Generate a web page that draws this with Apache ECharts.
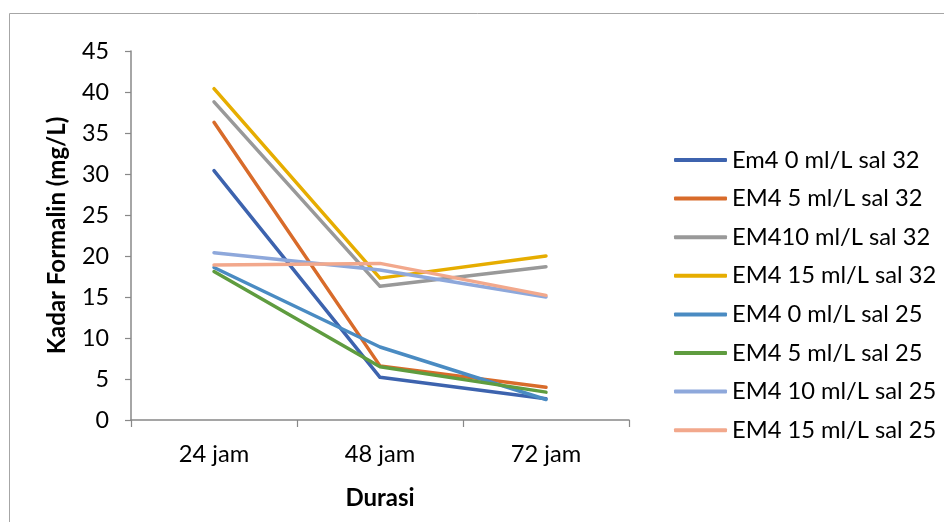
<!DOCTYPE html>
<html>
<head>
<meta charset="utf-8">
<script src="https://cdn.jsdelivr.net/npm/echarts@6/dist/echarts.min.js"></script>
<style>
html,body{margin:0;padding:0;background:#fff;}
#c{width:944px;height:522px;}
</style>
</head>
<body>
<div id="c"></div>
<script>
var categories = ['24 jam', '48 jam', '72 jam'];
var seriesNames = [
  'Em4 0 ml/L sal 32',
  'EM4 5 ml/L sal 32',
  'EM410 ml/L sal 32',
  'EM4 15 ml/L sal 32',
  'EM4 0 ml/L sal 25',
  'EM4 5 ml/L sal 25',
  'EM4 10 ml/L sal 25',
  'EM4 15 ml/L sal 25'
];
var em4_0_sal32  = [30.4, 5.2, 2.6];
var em4_5_sal32  = [36.3, 6.6, 4.0];
var em4_10_sal32 = [38.8, 16.3, 18.7];
var em4_15_sal32 = [40.4, 17.3, 20.0];
var em4_0_sal25  = [18.6, 8.9, 2.5];
var em4_5_sal25  = [18.1, 6.5, 3.4];
var em4_10_sal25 = [20.4, 18.3, 15.0];
var em4_15_sal25 = [18.9, 19.1, 15.2];
var yTicks = [0, 5, 10, 15, 20, 25, 30, 35, 40, 45];

var seriesData = [em4_0_sal32, em4_5_sal32, em4_10_sal32, em4_15_sal32,
                  em4_0_sal25, em4_5_sal25, em4_10_sal25, em4_15_sal25];
var colors = ['#3D63AE', '#D86B2A', '#999999', '#E6AD00',
              '#4A8BC2', '#5F9C3F', '#8EA8DB', '#F2A88C'];

var FONT = 'Lato, Carlito, Calibri, sans-serif';
var chart = echarts.init(document.getElementById('c'), null, {renderer: 'canvas'});
chart.setOption({
  animation: false,
  backgroundColor: '#ffffff',
  color: colors,
  textStyle: {fontFamily: FONT},
  graphic: [{
    type: 'rect',
    shape: {x: 9.5, y: 13.5, width: 1000, height: 600},
    style: {fill: null, stroke: '#a6a6a6', lineWidth: 1},
    silent: true, z: -10
  }],
  grid: {left: 131, right: 315, top: 51, bottom: 102, containLabel: false},
  legend: {
    orient: 'vertical',
    left: 669,
    top: 143,
    itemWidth: 53,
    itemHeight: 4,
    itemGap: 14.6,
    icon: 'roundRect',
    textStyle: {fontFamily: FONT, fontSize: 23.7, color: '#000', lineHeight: 24},
    data: seriesNames
  },
  xAxis: {
    type: 'category',
    data: categories,
    boundaryGap: true,
    name: 'Durasi',
    nameLocation: 'middle',
    nameGap: 66,
    nameTextStyle: {fontFamily: FONT, fontSize: 24, fontWeight: 'bold', color: '#000'},
    axisLine: {lineStyle: {color: '#888888', width: 1.5}},
    axisTick: {show: true, length: 7, lineStyle: {color: '#888888', width: 1.2}},
    axisLabel: {fontFamily: FONT, fontSize: 23.7, color: '#000', margin: 22},
    splitLine: {show: false}
  },
  yAxis: {
    type: 'value',
    min: yTicks[0],
    max: yTicks[yTicks.length - 1],
    interval: 5,
    name: 'Kadar Formalin (mg/L)',
    nameLocation: 'middle',
    nameGap: 62,
    nameRotate: 90,
    nameTextStyle: {fontFamily: FONT, fontSize: 24, fontWeight: 'bold', color: '#000'},
    axisLine: {show: true, lineStyle: {color: '#888888', width: 1.5}},
    axisTick: {show: true, length: 6, lineStyle: {color: '#888888', width: 1.2}},
    axisLabel: {fontFamily: FONT, fontSize: 23.3, color: '#000', margin: 22},
    splitLine: {show: false}
  },
  series: seriesNames.map(function (n, i) {
    return {
      name: n,
      type: 'line',
      data: seriesData[i],
      showSymbol: false,
      symbol: 'none',
      lineStyle: {width: 3.5, color: colors[i], cap: 'round', join: 'round'},
      itemStyle: {color: colors[i]}
    };
  })
});
</script>
</body>
</html>
